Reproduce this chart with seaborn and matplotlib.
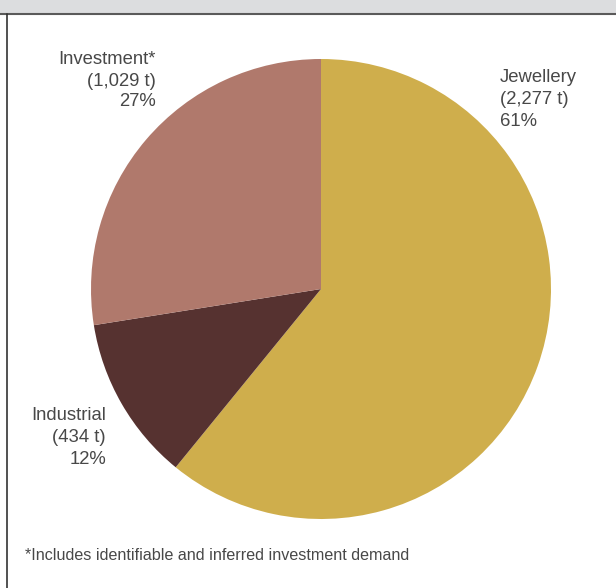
import matplotlib
matplotlib.use("Agg")
import matplotlib.pyplot as plt
from matplotlib.patches import Rectangle
from matplotlib.lines import Line2D
import seaborn as sns

# Gold demand by end use (tonnes) and the stated shares
categories = ["Jewellery", "Industrial", "Investment*"]
tonnes = [2277, 434, 1029]
tonne_labels = ["2,277", "434", "1,029"]
shares = [61, 12, 27]
footnote = "*Includes identifiable and inferred investment demand"

sns.set_theme(style="white")
plt.rcParams["font.family"] = ["Liberation Sans", "DejaVu Sans"]

colors = sns.color_palette(["#cfae4c", "#563230", "#b0796c"])

W, H = 616, 588
fig = plt.figure(figsize=(W / 100, H / 100), dpi=100)
fig.patch.set_facecolor("white")

ax = fig.add_axes([0, 0, 1, 1])
cx, cy, r = 321, H - 289, 230
ax.pie(tonnes, colors=colors, startangle=90, counterclock=False,
       center=(cx, cy), radius=r, wedgeprops=dict(linewidth=0))
ax.set_xlim(0, W)
ax.set_ylim(0, H)
ax.set_axis_off()

# Header band and frame
ax.add_patch(Rectangle((0, H - 13), W, 13, facecolor="#dcdddf", edgecolor="none", zorder=5))
ax.add_line(Line2D([0, W], [H - 13.5, H - 13.5], color="#5a5a5a", lw=1.5, zorder=6))
ax.add_line(Line2D([7, 7], [0, H - 13.5], color="#333333", lw=1.2, zorder=6))

txt = dict(color="#484848", va="center")

def label(i, x, ys, ha):
    lines = [categories[i], f"({tonne_labels[i]} t)", f"{shares[i]}%"]
    for s, y in zip(lines, ys):
        ax.text(x, H - y, s, ha=ha, fontsize=13.3, **txt)

label(0, 500, [78, 100, 122], "left")
label(1, 106, [415, 438, 460], "right")
label(2, 156, [59, 81, 102], "right")

ax.text(25, H - 555, footnote, ha="left", fontsize=11.6, **txt)

fig.savefig("out.png", dpi=100)
